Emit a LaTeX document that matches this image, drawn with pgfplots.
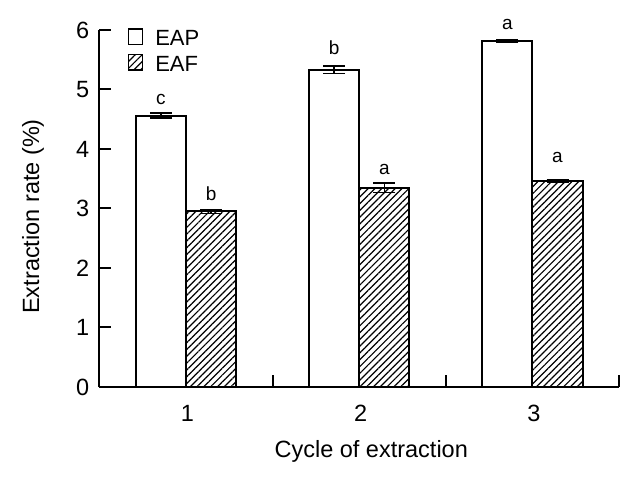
\documentclass[border=0pt]{standalone}
\usepackage{pgfplots}
\pgfplotsset{compat=1.18}
\usepackage{pgfplotstable}
\usepackage{fontspec}
\setmainfont{Liberation Sans}
\usetikzlibrary{patterns.meta}
\pgfplotstableread{
x     y     e
0.855 4.56  0.040
1.855 5.33  0.060
2.855 5.815 0.015
}\eap
\pgfplotstableread{
x     y     e
1.145 2.95  0.035
2.145 3.345 0.079
3.145 3.46  0.022
}\eaf
\pgfplotstableread{
x     y     lab
0.855 4.73  c
1.145 3.13  b
1.855 5.58  b
2.145 3.56  a
2.855 6.00  a
3.145 3.76  a
}\letters
\begin{document}
\fontsize{11.75}{14}\selectfont
\begin{tikzpicture}
\begin{axis}[
  scale only axis, width=259.75pt, height=178.5pt,
  xmin=0.5, xmax=3.5, ymin=0, ymax=6,
  clip=false,
  axis x line=bottom, axis y line=left,
  axis line style={-, line width=1pt},
  every tick/.style={black, line width=1pt},
  tick align=inside,
  major tick length=6pt,
  xtick={0.5,1.5,2.5,3.5}, xticklabels={1,2,3,{}},
  xticklabel style={inner sep=0pt, anchor=north, xshift=44pt, yshift=-9pt, overlay},
  ytick={0,1,2,3,4,5,6},
  yticklabel style={inner sep=0pt, anchor=east, xshift=-5pt},
  /pgf/number format/assume math mode=true,
  xlabel={Cycle of extraction},
  xlabel style={at={(axis description cs:0.5,0)}, anchor=north, inner sep=0pt, xshift=6pt, yshift=-26.5pt},
  ylabel={Extraction rate (\%)},
  ylabel style={at={(axis description cs:0,0.5)}, anchor=center, inner sep=0pt, xshift=-4pt, yshift=33.25pt},
  legend style={at={(axis description cs:0,1)}, anchor=north west, xshift=13.9pt, yshift=1.2pt,
    draw=none, fill=none, inner sep=0pt, row sep=2.25pt, font=\fontsize{11}{13}\selectfont,
    nodes={inner sep=0pt}, /tikz/every odd column/.style={column sep=6pt}},
  legend cell align=left,
  legend image code/.code={\draw[#1, line width=0.8pt] (0pt,-2.3pt) rectangle (7pt,5.5pt);},
]
\addplot[ybar, bar width=0.29, bar shift=0pt, fill=white, draw=black, line width=1pt,
  error bars/.cd, y dir=both, y explicit,
  error bar style={line width=0.8pt}, error mark options={rotate=90, line width=0.8pt, mark size=5.5pt}]
  table[x=x, y=y, y error=e] {\eap};
\addlegendentry{EAP}
\addplot[ybar, bar width=0.29, bar shift=0pt, draw=black, line width=1pt,
  pattern={Lines[angle=45, distance=2.4pt, line width=0.6pt]},
  error bars/.cd, y dir=both, y explicit,
  error bar style={line width=0.8pt}, error mark options={rotate=90, line width=0.8pt, mark size=5.5pt}]
  table[x=x, y=y, y error=e] {\eaf};
\addlegendentry{EAF}
\addplot[draw=none, mark=none, forget plot, nodes near coords, point meta=explicit symbolic,
  every node near coord/.append style={inner sep=0pt, anchor=south, font=\fontsize{9.5}{11}\selectfont}]
  table[x=x, y=y, meta=lab] {\letters};
\coordinate (O) at (rel axis cs:0,0);
\coordinate (T) at (rel axis cs:1,1);
\end{axis}
\path (O) ++(-49.75pt,-47.5pt) rectangle ([shift={(11.5pt,15pt)}]T);
\end{tikzpicture}
\end{document}
